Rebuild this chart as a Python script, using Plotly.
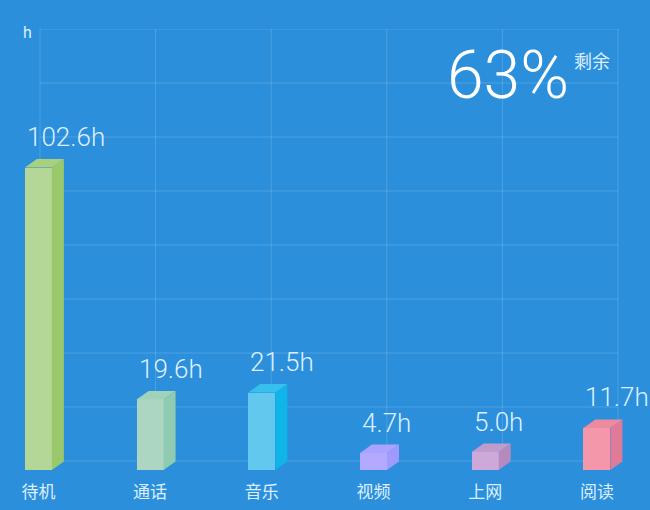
import plotly.graph_objects as go

# 数据
categories = ["待机", "通话", "音乐", "视频", "上网", "阅读"]
hours = [102.6, 19.6, 21.5, 4.7, 5.0, 11.7]
remain_pct = 63

front_colors = ["#b4d696", "#acd6c1", "#62c8ee", "#b3aaff", "#cca9d8", "#f497ab"]
side_colors = ["#9bc86c", "#8fcbb0", "#0fb4e8", "#a09aff", "#b58bbf", "#e07b97"]
top_colors = ["#a7d17f", "#9fd2b8", "#37c0ee", "#aaa3ff", "#c09ccd", "#ec8aa0"]

BG = "#2b8fdc"
GRID = "rgba(255,255,255,0.16)"
TXT = "#dcefff"

Y_CAP = 84        # 柱子显示高度上限
BAR_W = 0.242     # 正面宽度(类目单位)
DX = 0.107        # 立体进深 x
DY = 2.36         # 立体进深 y

W, H = 650, 510
PT, PB = 29, 470          # 绘图区上下像素
X0_PX, UNIT_PX = 38.4, 111.7   # 第一个类目的像素位置, 类目间距
GL, GR = 40, 618          # 网格左右像素


def xdat(px):
  return (px - X0_PX) / UNIT_PX


x = list(range(len(categories)))
bar_h = [min(v, Y_CAP) for v in hours]

fig = go.Figure()
fig.add_trace(go.Bar(x=x, y=bar_h, width=BAR_W, marker_color=front_colors,
                     marker_line_width=0, hoverinfo="skip"))

shapes = []
# 网格
for k in range(6):
  gx = xdat(GL + k * (GR - GL) / 5)
  shapes.append(dict(type="line", xref="x", yref="y", x0=gx, x1=gx, y0=2.5, y1=122.5,
                     line=dict(color=GRID, width=1), layer="below"))
for k in range(9):
  gy = 2.5 + 15 * k
  shapes.append(dict(type="line", xref="x", yref="y", x0=xdat(GL), x1=xdat(GR), y0=gy, y1=gy,
                     line=dict(color=GRID, width=1), layer="below"))

annotations = []
for i, h in enumerate(bar_h):
  xl = i - BAR_W / 2
  xr = i + BAR_W / 2
  # 侧面
  shapes.append(dict(type="path", xref="x", yref="y",
                     path=f"M{xr},0 L{xr},{h} L{xr + DX},{h + DY} L{xr + DX},{DY} Z",
                     fillcolor=side_colors[i], line_width=0, layer="above"))
  # 顶面
  shapes.append(dict(type="path", xref="x", yref="y",
                     path=f"M{xl},{h} L{xl + DX},{h + DY} L{xr + DX},{h + DY} L{xr},{h} Z",
                     fillcolor=top_colors[i], line_width=0, layer="above"))
  annotations.append(dict(x=xl, y=h + DY, xref="x", yref="y", text=f"{hours[i]:.1f}h",
                          xanchor="left", yanchor="bottom", showarrow=False, xshift=0, yshift=5,
                          font=dict(family="Roboto", size=26, color=TXT, weight=300)))


def pp(px, py):
  return px / W, (PB - py) / (PB - PT)


hx, hy = pp(27, 32)
annotations.append(dict(x=hx, y=hy, xref="paper", yref="paper", text="h", showarrow=False,
                        xanchor="center", yanchor="middle",
                        font=dict(family="Roboto", size=16, color=TXT)))
px_, py_ = pp(508, 76)
annotations.append(dict(x=px_, y=py_, xref="paper", yref="paper", text=f"{remain_pct}%",
                        showarrow=False, xanchor="center", yanchor="middle",
                        font=dict(family="Roboto", size=66, color="#ffffff", weight=300)))
rx, ry = pp(592, 60)
annotations.append(dict(x=rx, y=ry, xref="paper", yref="paper", text="剩余", showarrow=False,
                        xanchor="center", yanchor="middle",
                        font=dict(family="Noto Sans CJK SC", size=18, color=TXT)))

fig.update_layout(
  width=W, height=H,
  margin=dict(l=0, r=0, t=PT, b=H - PB),
  paper_bgcolor=BG, plot_bgcolor=BG,
  showlegend=False,
  shapes=shapes,
  annotations=annotations,
  bargap=0,
)
fig.update_xaxes(range=[xdat(0), xdat(W)], tickvals=x, ticktext=categories,
                 showgrid=False, zeroline=False, showline=False, ticks="",
                 tickfont=dict(family="Noto Sans CJK SC", size=17, color=TXT),
                 ticklabelstandoff=10)
fig.update_yaxes(range=[0, 122.5], showgrid=False, zeroline=False,
                 showticklabels=False, showline=False)

fig.write_html("out.html", config={"displayModeBar": False},
               post_script="document.body.style.margin='0';")
